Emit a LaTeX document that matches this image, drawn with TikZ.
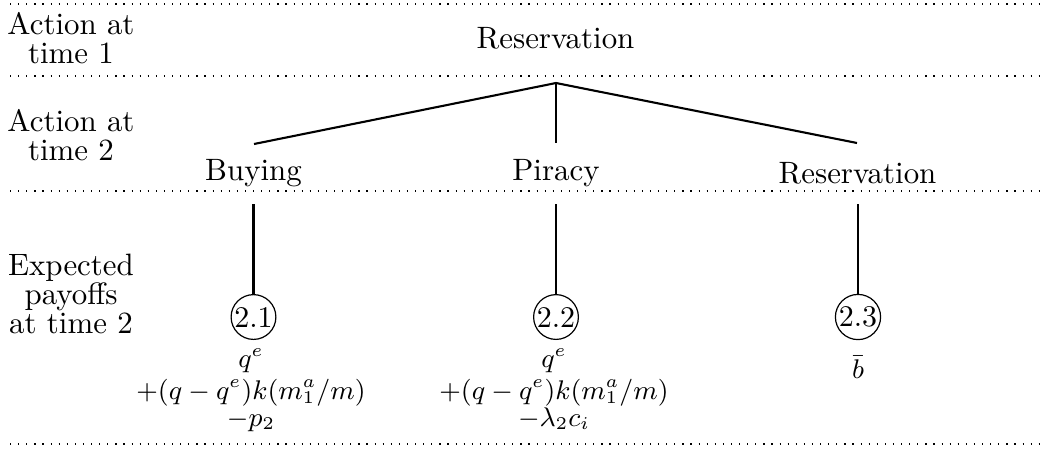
\documentclass[tikz,border=0pt]{standalone}
\usepackage{amsmath}
\tikzset{
  every node/.style={font=\fontsize{10.3}{9.7}\selectfont},
  lab/.style={align=center, inner sep=0pt},
  mathlab/.style={align=center, inner sep=0pt, font=\fontsize{9}{9.7}\selectfont},
  act/.style={inner sep=0pt},
  branch/.style={line width=0.7pt},
  payoff/.style={circle, draw, line width=0.4pt, inner sep=0.2pt, font=\fontsize{10}{9.7}\selectfont},
  sep/.style={line width=0.4pt, dash pattern=on 0.4pt off 2.3pt},
}
\begin{document}
\begin{tikzpicture}[x=0.33333pt,y=-0.33333pt]
\useasboundingbox (0,0) rectangle (1047,450);
% separators
\draw[sep] (10,4) -- (1042,4);
\draw[sep] (10,76) -- (1042,76);
\draw[sep] (10,191) -- (1042,191);
\draw[sep] (10,444) -- (1042,444);
% row labels
\node[lab] (l1) at (71,38) {Action at\\time 1};
\node[lab] (l2) at (71,135) {Action at\\time 2};
\node[lab] (l3) at (71,294) {Expected\\payoffs\\at time 2};
% tree
\node[act, anchor=base] (root) at (555.5,48) {Reservation};
\node[act] (buy) at (253.5,173.5) {Buying};
\node[act] (pir) at (556,173.5) {Piracy};
\node[act] (res) at (857.5,173.5) {Reservation};
\coordinate (apex) at (556,83);
\coordinate (e1) at (254,144);
\coordinate (e2) at (556,143);
\coordinate (e3) at (857,143);
\draw[branch] (e1) -- (apex) -- (e3);
\draw[branch] (apex) -- (e2);
% payoff circles
\node[payoff] (c1) at (253.5,317) {2.1};
\node[payoff] (c2) at (556,317) {2.2};
\node[payoff] (c3) at (858,317) {2.3};
\coordinate (v1) at (253.5,204);
\coordinate (v2) at (556,204);
\coordinate (v3) at (858,204);
\draw[branch] (v1) -- (c1);
\draw[branch] (v2) -- (c2);
\draw[branch] (v3) -- (c3);
% payoffs
\node[mathlab, anchor=north] (p1) at (251,348) {$q^e$\\[0.7pt]$+(q-q^e)k(m_1^a/m)$\\[-0.7pt]$-p_2$};
\node[mathlab, anchor=north] (p2) at (554,348) {$q^e$\\[0.7pt]$+(q-q^e)k(m_1^a/m)$\\[-0.7pt]$-\lambda_2c_i$};
\node[mathlab, anchor=north] (p3) at (858,355) {$\bar{b}$};
\end{tikzpicture}
\end{document}
